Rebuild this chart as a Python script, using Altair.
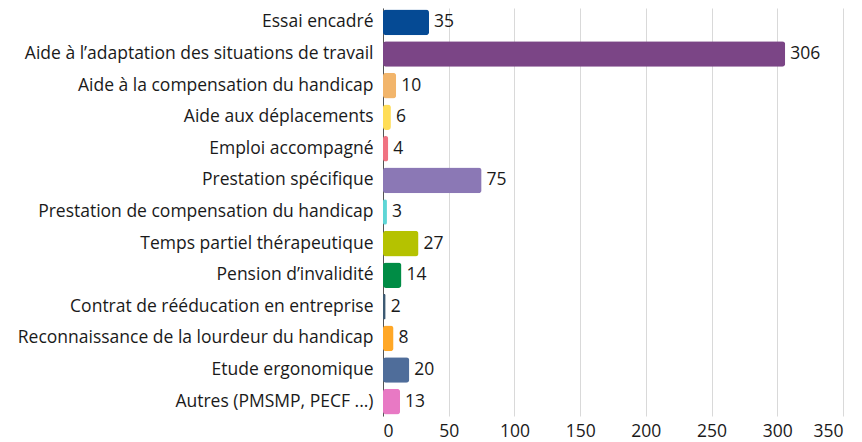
import altair as alt
import pandas as pd

categories = [
    "Essai encadré",
    "Aide à l’adaptation des situations de travail",
    "Aide à la compensation du handicap",
    "Aide aux déplacements",
    "Emploi accompagné",
    "Prestation spécifique",
    "Prestation de compensation du handicap",
    "Temps partiel thérapeutique",
    "Pension d’invalidité",
    "Contrat de rééducation en entreprise",
    "Reconnaissance de la lourdeur du handicap",
    "Etude ergonomique",
    "Autres (PMSMP, PECF ...)",
]
values = [35, 306, 10, 6, 4, 75, 3, 27, 14, 2, 8, 20, 13]
colors = ["#054A94", "#7B4586", "#F2B56B", "#FFDD57", "#F07382", "#8B78B5",
          "#5ED6D6", "#B5C200", "#008C45", "#3D5A73", "#FFA726", "#4F6D9A", "#E879C4"]

df = pd.DataFrame({"cat": categories, "val": values, "color": colors})

FONT = "Open Sans"
FS = 17.5

y = alt.Y("cat:N", sort=categories, title=None,
          scale=alt.Scale(paddingInner=0.19, paddingOuter=0.05),
          axis=alt.Axis(labelFontSize=FS, labelColor="#1a1a1a", labelFont=FONT,
                        ticks=False, domainColor="#555", labelPadding=10,
                        labelLimit=400, minExtent=370, maxExtent=370))
x = alt.X("val:Q", title=None, scale=alt.Scale(domain=[0, 350]),
          axis=alt.Axis(values=list(range(0, 351, 50)), labelFontSize=FS,
                        labelColor="#1a1a1a", labelFont=FONT, ticks=False,
                        domain=False, gridColor="#d9d9d9", labelPadding=6))

bars = alt.Chart(df).mark_bar(cornerRadius=3).encode(
    x=x, y=y, color=alt.Color("color:N", scale=None))
text = alt.Chart(df).mark_text(align="left", dx=5, fontSize=FS, font=FONT,
                               color="#1a1a1a").encode(
    x="val:Q", y=alt.Y("cat:N", sort=categories), text="val:Q")

chart = (bars + text).properties(
    width=460, height=408,
    padding={"left": 5, "top": 0, "right": 5, "bottom": 0},
).configure_view(stroke=None)
chart.save("out.html", embed_options={"renderer": "svg", "actions": False})
